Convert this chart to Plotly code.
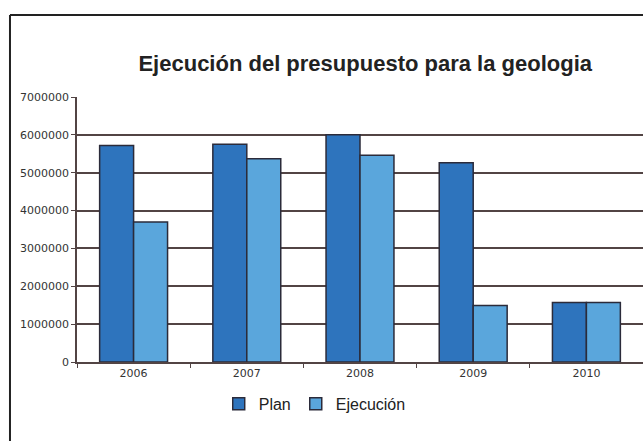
import plotly.graph_objects as go

years = ["2006", "2007", "2008", "2009", "2010"]
plan = [5720000, 5750000, 6000000, 5260000, 1570000]
ejecucion = [3700000, 5370000, 5460000, 1490000, 1570000]
y_ticks = [0, 1000000, 2000000, 3000000, 4000000, 5000000, 6000000, 7000000]
title_text = "Ejecución del presupuesto para la geologia"

fig = go.Figure()
fig.add_trace(go.Bar(x=years, y=plan, name="Plan",
                     marker=dict(color="#2e74bd", line=dict(color="#2b2b3a", width=1.5))))
fig.add_trace(go.Bar(x=years, y=ejecucion, name="Ejecución",
                     marker=dict(color="#5aa6dc", line=dict(color="#2b2b3a", width=1.5))))

tick_font = dict(family="DejaVu Sans, sans-serif", size=11, color="#333333")

fig.update_layout(
    width=643, height=441,
    margin=dict(l=77, r=0, t=97, b=79),
    paper_bgcolor="white", plot_bgcolor="white",
    barmode="group", bargap=0.4, bargroupgap=0,
    font=dict(family="Arial, Liberation Sans, sans-serif", color="#333333"),
    title=dict(text="<b>" + title_text + "</b>", x=0.568, xref="container", xanchor="center",
               y=0.857, yref="container", yanchor="middle",
               font=dict(size=22, color="#222222")),
    legend=dict(orientation="h", x=0.42, xanchor="center", y=-0.158, yanchor="middle",
                font=dict(size=16, color="#222222"), itemwidth=30, tracegroupgap=0),
    showlegend=True,
)
fig.update_yaxes(range=[0, 7000000], tickvals=y_ticks, ticktext=[str(v) for v in y_ticks],
                 showgrid=True, gridcolor="#524444", gridwidth=2,
                 zeroline=False, showline=True, linecolor="#524444", linewidth=1.5,
                 ticks="outside", ticklen=4, tickcolor="#524444",
                 tickfont=tick_font)
fig.update_xaxes(showline=True, linecolor="#524444", linewidth=1.5,
                 ticks="outside", tickson="boundaries", ticklen=4, tickcolor="#524444",
                 tickfont=tick_font, showgrid=False)

# hide top gridline at 7M
fig.add_shape(type="line", xref="paper", yref="paper", x0=0.004, x1=1.0, y0=1.0, y1=1.0,
              line=dict(color="white", width=3), layer="above")
# outer frame
fig.add_shape(type="line", xref="paper", yref="paper", x0=-0.1184, x1=-0.1184, y0=-0.31, y1=1.309,
              line=dict(color="#222222", width=2))
fig.add_shape(type="line", xref="paper", yref="paper", x0=-0.1184, x1=1.02, y0=1.309, y1=1.309,
              line=dict(color="#222222", width=2))

fig.write_html("out.html")
